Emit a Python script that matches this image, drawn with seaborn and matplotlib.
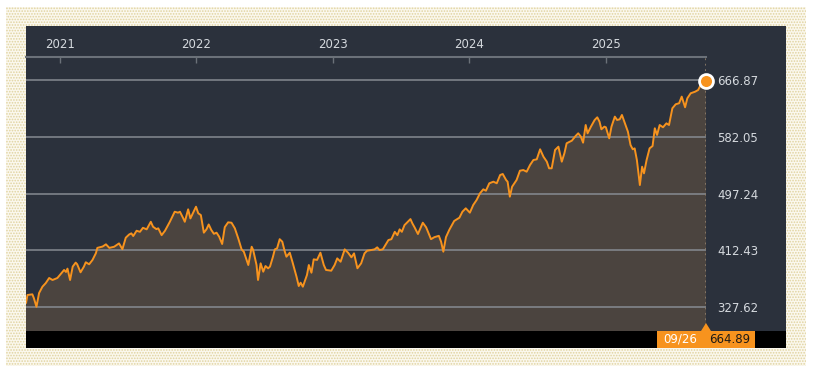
import pandas as pd
import seaborn as sns
import matplotlib.pyplot as plt
from matplotlib.patches import Rectangle, Polygon

# price series (date, close)
dates = [
    "2020-10-02", "2020-10-06", "2020-10-19", "2020-10-23", "2020-10-30", "2020-11-06",
    "2020-11-15", "2020-11-24", "2020-12-03", "2020-12-12", "2020-12-25", "2021-01-03",
    "2021-01-12", "2021-01-17", "2021-01-21", "2021-01-28", "2021-02-04", "2021-02-12",
    "2021-02-16", "2021-02-25", "2021-03-06", "2021-03-11", "2021-03-20", "2021-03-29",
    "2021-04-07", "2021-04-11", "2021-04-25", "2021-05-04", "2021-05-13", "2021-05-26",
    "2021-06-08", "2021-06-17", "2021-06-26", "2021-07-05", "2021-07-11", "2021-07-16",
    "2021-07-25", "2021-08-03", "2021-08-11", "2021-08-21", "2021-09-01", "2021-09-07",
    "2021-09-16", "2021-09-21", "2021-09-30", "2021-10-09", "2021-10-22", "2021-11-04",
    "2021-11-13", "2021-11-18", "2021-11-27", "2021-12-01", "2021-12-10", "2021-12-16",
    "2021-12-31", "2022-01-06", "2022-01-13", "2022-01-21", "2022-01-28", "2022-02-03",
    "2022-02-10", "2022-02-17", "2022-02-24", "2022-03-03", "2022-03-11", "2022-03-18",
    "2022-03-27", "2022-04-05", "2022-04-14", "2022-04-23", "2022-05-02", "2022-05-08",
    "2022-05-20", "2022-05-29", "2022-06-02", "2022-06-11", "2022-06-15", "2022-06-22",
    "2022-06-29", "2022-07-05", "2022-07-12", "2022-07-17", "2022-07-25", "2022-07-30",
    "2022-08-05", "2022-08-12", "2022-08-19", "2022-08-25", "2022-08-30", "2022-09-08",
    "2022-09-15", "2022-09-26", "2022-10-02", "2022-10-07", "2022-10-13", "2022-10-24",
    "2022-10-29", "2022-11-05", "2022-11-11", "2022-11-20", "2022-11-29", "2022-12-08",
    "2022-12-14", "2022-12-28", "2023-01-06", "2023-01-13", "2023-01-22", "2023-02-02",
    "2023-02-11", "2023-02-20", "2023-02-27", "2023-03-08", "2023-03-18", "2023-03-27",
    "2023-04-03", "2023-04-14", "2023-04-23", "2023-04-30", "2023-05-06", "2023-05-15",
    "2023-05-22", "2023-05-30", "2023-06-07", "2023-06-16", "2023-06-23", "2023-06-29",
    "2023-07-05", "2023-07-12", "2023-07-21", "2023-07-28", "2023-08-02", "2023-08-08",
    "2023-08-17", "2023-08-30", "2023-09-08", "2023-09-21", "2023-09-30", "2023-10-12",
    "2023-10-18", "2023-10-24", "2023-10-31", "2023-11-09", "2023-11-22", "2023-12-06",
    "2023-12-14", "2023-12-23", "2024-01-03", "2024-01-12", "2024-01-21", "2024-01-30",
    "2024-02-08", "2024-02-15", "2024-02-24", "2024-03-06", "2024-03-15", "2024-03-24",
    "2024-03-31", "2024-04-09", "2024-04-13", "2024-04-19", "2024-04-25", "2024-05-07",
    "2024-05-16", "2024-05-25", "2024-06-03", "2024-06-12", "2024-06-21", "2024-06-30",
    "2024-07-09", "2024-07-18", "2024-07-27", "2024-08-02", "2024-08-09", "2024-08-18",
    "2024-08-27", "2024-09-05", "2024-09-12", "2024-09-18", "2024-10-02", "2024-10-12",
    "2024-10-19", "2024-10-26", "2024-11-01", "2024-11-08", "2024-11-13", "2024-11-22",
    "2024-12-02", "2024-12-09", "2024-12-15", "2024-12-20", "2024-12-28", "2025-01-01",
    "2025-01-10", "2025-01-16", "2025-01-25", "2025-01-31", "2025-02-07", "2025-02-13",
    "2025-02-21", "2025-03-01", "2025-03-08", "2025-03-14", "2025-03-19", "2025-03-25",
    "2025-04-02", "2025-04-08", "2025-04-13", "2025-04-20", "2025-04-28", "2025-05-06",
    "2025-05-12", "2025-05-18", "2025-05-25", "2025-06-03", "2025-06-12", "2025-06-19",
    "2025-06-28", "2025-07-07", "2025-07-16", "2025-07-23", "2025-08-01", "2025-08-07",
    "2025-08-16", "2025-08-28", "2025-09-05", "2025-09-14", "2025-09-26",
]
prices = [
    333.6, 345.6, 346.6, 341.0, 328.0, 348.5,
    358.0, 363.5, 371.0, 368.0, 371.0, 377.0,
    383.0, 380.0, 385.0, 368.0, 388.0, 394.0,
    391.5, 379.5, 388.0, 394.5, 391.5, 398.0,
    408.0, 416.0, 418.0, 421.3, 416.0, 417.7,
    422.7, 414.0, 431.2, 436.0, 437.7, 433.7,
    441.6, 440.0, 446.0, 443.7, 455.0, 447.6,
    444.0, 445.2, 435.0, 441.6, 455.0, 470.0,
    468.6, 470.0, 460.0, 455.0, 473.6, 460.0,
    477.5, 467.7, 465.0, 438.7, 443.7, 451.0,
    442.7, 437.0, 438.7, 432.7, 421.8, 447.0,
    454.2, 453.6, 445.2, 430.3, 413.8, 410.3,
    390.4, 417.7, 412.8, 390.4, 368.0, 392.9,
    380.4, 388.9, 385.4, 388.0, 402.8, 413.8,
    415.3, 429.0, 425.2, 411.8, 402.8, 408.8,
    395.3, 373.0, 359.0, 364.0, 358.0, 375.5,
    390.4, 378.9, 398.9, 398.0, 408.8, 390.4,
    383.0, 381.9, 390.4, 400.3, 395.3, 413.8,
    408.8, 401.9, 407.8, 385.5, 392.9, 407.8,
    411.8, 412.8, 413.8, 416.8, 412.8, 413.8,
    420.3, 427.7, 429.0, 440.0, 435.0, 443.7,
    440.0, 450.0, 455.0, 459.0, 452.7, 446.7,
    436.7, 453.6, 446.7, 429.0, 432.0, 434.0,
    425.2, 410.3, 432.0, 443.0, 456.2, 461.1,
    470.0, 475.1, 468.6, 480.1, 487.5, 497.5,
    503.5, 501.4, 512.5, 514.9, 512.5, 524.9,
    526.4, 517.4, 514.9, 492.5, 507.4, 517.4,
    531.3, 532.3, 529.8, 539.8, 547.3, 548.3,
    563.3, 552.2, 544.8, 534.9, 534.9, 562.3,
    567.2, 544.8, 557.3, 572.3, 576.2, 583.2,
    587.2, 582.2, 573.2, 599.6, 587.2, 597.1,
    607.1, 611.1, 604.6, 593.2, 597.1, 596.2,
    579.7, 597.1, 612.1, 607.1, 608.1, 614.6,
    602.1, 589.6, 569.7, 563.3, 564.7, 547.3,
    509.9, 537.3, 527.4, 547.3, 564.7, 568.2,
    594.7, 584.7, 599.6, 596.2, 602.1, 599.6,
    624.6, 630.6, 632.1, 642.0, 626.1, 639.5,
    647.0, 649.4, 651.9, 661.9, 664.89,
]
grid_levels = [327.62, 412.43, 497.24, 582.05, 666.87]
year_ticks = ["2021", "2022", "2023", "2024", "2025"]

df = pd.DataFrame({"date": pd.to_datetime(dates), "price": prices})

ORANGE = "#f7931e"
PANEL = "#2b313c"
W, H = 813, 373


def fx(px):
    return px / W


def fy(py):
    return 1 - py / H


sns.set_theme(style="dark")
plt.rcParams["font.family"] = ["DejaVu Sans"]
plt.rcParams["hatch.linewidth"] = 0.8

fig = plt.figure(figsize=(W / 100, H / 100), dpi=100)
fig.patch.set_facecolor("white")

# dotted outer frame, dark panel and black strip
frame = Rectangle((fx(6), fy(366)), fx(800), 359 / H, transform=fig.transFigure,
                  facecolor="#fbf8ee", edgecolor="#e0d39f", hatch="......", lw=0, zorder=-3)
panel = Rectangle((fx(26), fy(348)), fx(760), 322 / H, transform=fig.transFigure,
                  facecolor=PANEL, lw=0, zorder=-2)
strip = Rectangle((fx(26), fy(348)), fx(760), 17 / H, transform=fig.transFigure,
                  facecolor="black", lw=0, zorder=-1)
for p in (frame, panel, strip):
    fig.patches.append(p)

ax = fig.add_axes([fx(26), fy(331), fx(706) - fx(26), fy(57) - fy(331)])
ax.set_facecolor("none")

sns.lineplot(data=df, x="date", y="price", ax=ax, color=ORANGE, lw=1.4, zorder=4)
ax.fill_between(df["date"], df["price"], 0, color="#4b443f", lw=0, zorder=1)

last = df.iloc[-1]
ax.plot(last["date"], last["price"], "o", ms=10, mfc=ORANGE, mec="white", mew=2,
        clip_on=False, zorder=6)
ax.axvline(last["date"], color="#8a7a68", lw=1.3, ls=(0, (1, 2)), zorder=3)

ax.set_xlim(pd.Timestamp("2020-10-02"), last["date"])
ax.set_ylim(291.8, 701.2)

# year ticks on top
ax.xaxis.tick_top()
ax.set_xticks(pd.to_datetime([y + "-01-01" for y in year_ticks]))
ax.set_xticklabels(year_ticks)
ax.tick_params(axis="x", direction="in", length=4, width=1, color="#6b7179",
               labelcolor="#d5d9de", labelsize=8.5, pad=4.5)

# price levels on the right
ax.yaxis.tick_right()
ax.set_yticks(grid_levels)
ax.set_yticklabels([f"{v:.2f}" for v in grid_levels])
ax.tick_params(axis="y", length=0, labelcolor="#d5d9de", labelsize=8.5, pad=8)
ax.grid(axis="y", color="#868b92", lw=1.1, zorder=2)
ax.grid(axis="x", visible=False)
ax.set_axisbelow(False)
ax.set_xlabel("")
ax.set_ylabel("")

for side in ("left", "right", "bottom"):
    ax.spines[side].set_visible(False)
ax.spines["top"].set_color("#6b7179")
ax.spines["top"].set_linewidth(1.5)

# last value tag in the bottom strip
tag = Rectangle((fx(657), fy(348)), fx(98), 17 / H, transform=fig.transFigure,
                facecolor=ORANGE, lw=0, zorder=5)
arrow = Polygon([(fx(701), fy(331)), (fx(711), fy(331)), (fx(706), fy(323))],
                closed=True, transform=fig.transFigure, facecolor=ORANGE, lw=0, zorder=5)
fig.patches.extend([tag, arrow])
fig.text(fx(680), fy(339.5), last["date"].strftime("%m/%d"), color="white",
         fontsize=8.5, ha="center", va="center", zorder=6)
fig.text(fx(730), fy(339.5), f"{last['price']:.2f}", color="#1e1a16",
         fontsize=8.5, ha="center", va="center", zorder=6)

fig.savefig("out.png", dpi=100)
